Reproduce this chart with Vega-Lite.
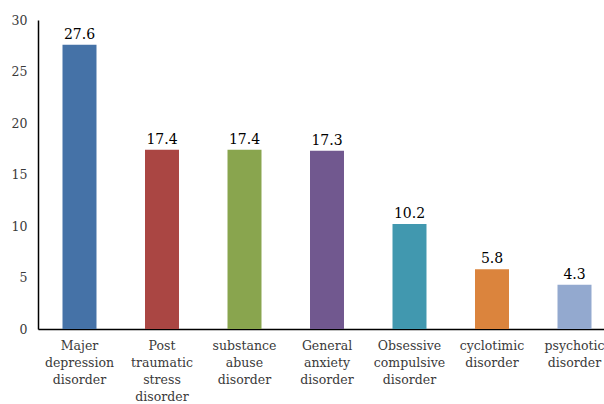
{
  "$schema": "https://vega.github.io/schema/vega-lite/v6.json",
  "autosize": "none",
  "padding": {"left": 38, "top": 20, "right": 0, "bottom": 75},
  "width": 566,
  "height": 309,
  "background": "white",
  "config": {
    "view": {"stroke": null},
    "font": "DejaVu Serif"
  },
  "data": {
    "values": [
      {"disorder": "Majer depression disorder", "value": 27.6},
      {"disorder": "Post traumatic stress disorder", "value": 17.4},
      {"disorder": "substance abuse disorder", "value": 17.4},
      {"disorder": "General anxiety disorder", "value": 17.3},
      {"disorder": "Obsessive compulsive disorder", "value": 10.2},
      {"disorder": "cyclotimic disorder", "value": 5.8},
      {"disorder": "psychotic disorder", "value": 4.3}
    ]
  },
  "encoding": {
    "x": {
      "field": "disorder",
      "type": "nominal",
      "sort": null,
      "scale": {"range": [0, 578], "paddingInner": 0.588, "paddingOuter": 0.297},
      "axis": {
        "title": null,
        "labelAngle": 0,
        "labelExpr": "split(datum.label, ' ')",
        "labelFont": "DejaVu Serif",
        "labelFontSize": 12.5,
        "labelColor": "#3a3a3a",
        "labelLineHeight": 17,
        "labelPadding": 10,
        "ticks": false,
        "domainColor": "#000000",
        "domainWidth": 1.5,
        "labelLimit": 200
      }
    },
    "y": {
      "field": "value",
      "type": "quantitative",
      "scale": {"domain": [0, 30], "nice": false},
      "axis": {
        "title": null,
        "values": [0, 5, 10, 15, 20, 25, 30],
        "grid": false,
        "ticks": false,
        "labelFont": "DejaVu Serif",
        "labelFontSize": 12.5,
        "labelColor": "#3a3a3a",
        "labelPadding": 11,
        "domainColor": "#000000",
        "domainWidth": 1.5
      }
    }
  },
  "layer": [
    {
      "mark": {"type": "bar"},
      "encoding": {
        "color": {
          "field": "disorder",
          "type": "nominal",
          "sort": null,
          "legend": null,
          "scale": {"range": ["#4572A7", "#AA4643", "#89A54E", "#71588F", "#4198AF", "#DB843D", "#93A9CF"]}
        }
      }
    },
    {
      "mark": {"type": "text", "baseline": "bottom", "dy": -3, "fontSize": 14, "font": "DejaVu Serif", "color": "#000000"},
      "encoding": {
        "text": {"field": "value", "type": "quantitative", "format": ".1f"}
      }
    }
  ]
}
